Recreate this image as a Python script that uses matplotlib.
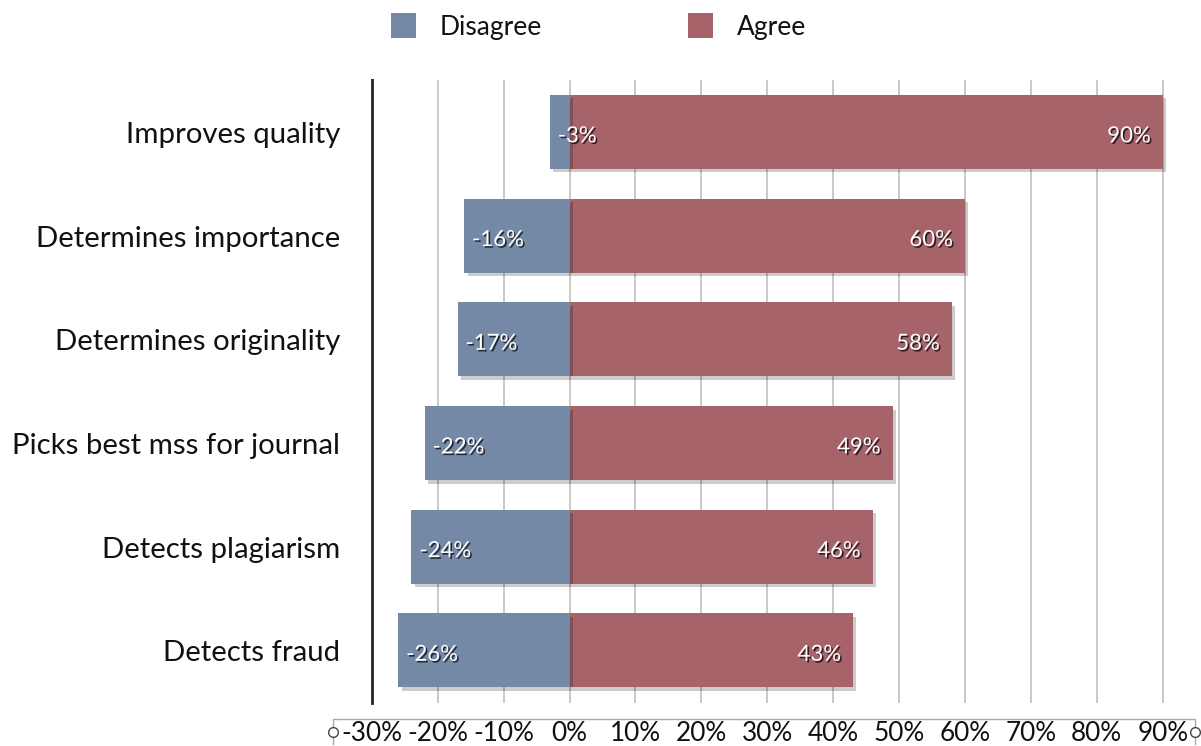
import matplotlib
matplotlib.use("Agg")
import matplotlib.pyplot as plt
import matplotlib.patheffects as pe
from matplotlib.patches import Rectangle

plt.rcParams["font.family"] = ["Lato", "DejaVu Sans"]

categories = [
    "Improves quality",
    "Determines importance",
    "Determines originality",
    "Picks best mss for journal",
    "Detects plagiarism",
    "Detects fraud",
]
disagree = [-3, -16, -17, -22, -24, -26]
agree = [90, 60, 58, 49, 46, 43]
tick_values = [-30, -20, -10, 0, 10, 20, 30, 40, 50, 60, 70, 80, 90]
tick_labels = [f"{v}%" for v in tick_values]
series_names = ["Disagree", "Agree"]

BLUE = "#7389a6"
RED = "#a6636a"

W, H = 1201, 746
fig = plt.figure(figsize=(W / 100, H / 100), dpi=100)
ax = fig.add_axes([333 / W, 1 - 719 / H, 862 / W, 640 / H])
ax.set_xlim(-35.9, 94.9)
ax.set_ylim(5.661, -0.511)
ax.axis("off")

# vertical gridlines and the left axis line
for v in tick_values[1:]:
    ax.plot([v, v], [-0.492, 5.497], color="#c9c9c9", lw=1.4, zorder=1)
ax.plot([-30, -30], [-0.511, 5.507], color="#222222", lw=2.0, zorder=3)

# bottom bracket with open end markers
ax.plot([-35.9, -35.9, 94.9, 94.9], [5.9, 5.661, 5.661, 5.9],
        color="#a8a8a8", lw=1.0, clip_on=False, zorder=2)
ax.plot([-35.9, 94.9], [5.786, 5.786], ls="none", marker="o", ms=7,
        mfc="white", mec="#444444", mew=1.0, clip_on=False, zorder=4)

bar_shadow = [pe.SimplePatchShadow(offset=(2.5, -2.5), shadow_rgbFace="#000000", alpha=0.2),
              pe.Normal()]
text_shadow = [pe.SimplePatchShadow(offset=(1.2, -1.2), shadow_rgbFace="#000000", alpha=0.7),
               pe.Normal()]

ypos = list(range(len(categories)))
ax.barh(ypos, agree, height=0.714, color=RED, zorder=2, path_effects=bar_shadow)
ax.barh(ypos, disagree, height=0.714, color=BLUE, zorder=2, path_effects=bar_shadow)

for i, (d, a) in enumerate(zip(disagree, agree)):
    ax.text(d + 1.2, i + 0.1, f"{d}%", ha="left", va="baseline", color="white",
            fontsize=16, zorder=5, path_effects=text_shadow)
    ax.text(a - 1.8, i + 0.1, f"{a}%", ha="right", va="baseline", color="white",
            fontsize=16, zorder=5, path_effects=text_shadow)
    ax.text(-34.8, i + 0.106, categories[i], ha="right", va="baseline",
            color="#111111", fontsize=21.2, clip_on=False)

for v, lab in zip(tick_values, tick_labels):
    ax.text(v, 5.873, lab, ha="center", va="baseline", color="#111111",
            fontsize=18.8, clip_on=False)

# legend
for x0, name, col in [(391, series_names[0], BLUE), (688, series_names[1], RED)]:
    fig.patches.append(Rectangle((x0 / W, 1 - 38 / H), 25 / W, 25 / H,
                                 transform=fig.transFigure, facecolor=col,
                                 edgecolor="none"))
    fig.text((x0 + 49) / W, 1 - 35 / H, name, ha="left", va="baseline",
             fontsize=19, color="#111111")

fig.savefig("out.png", dpi=100, facecolor="white")
